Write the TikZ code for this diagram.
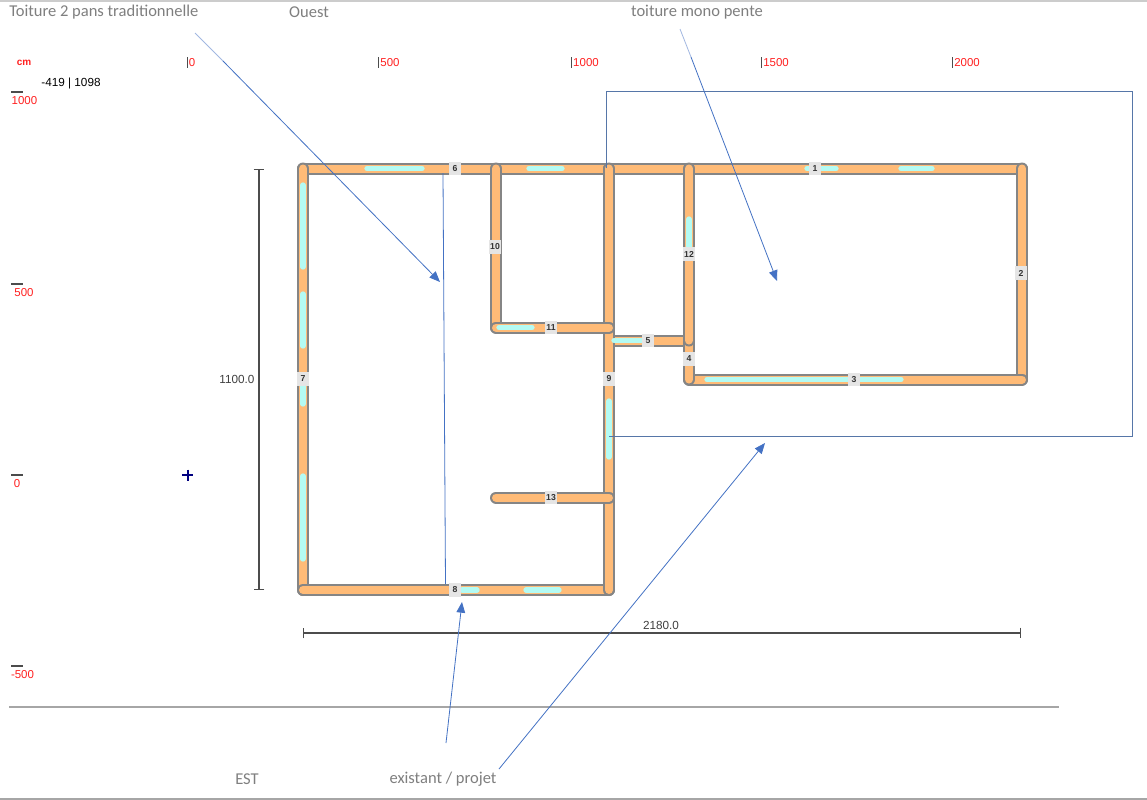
\documentclass[tikz,border=0pt]{standalone}
\usepackage{fontspec}
\setmainfont{Liberation Sans}
\newfontfamily\noteFont{Carlito}
\usetikzlibrary{arrows.meta}
\definecolor{wallg}{HTML}{858585}
\definecolor{wallo}{HTML}{FFBB77}
\definecolor{winc}{HTML}{B4FBF3}
\definecolor{roofb}{HTML}{5676A8}
\definecolor{arrb}{HTML}{4472C4}
\definecolor{notec}{HTML}{7F7F7F}
\definecolor{axr}{HTML}{FF2020}
\tikzset{
 x=0.75pt,y=-0.75pt,
 wallout/.style={draw=wallg,line width=9pt,line cap=round},
 wallin/.style={draw=wallo,line width=6pt,line cap=round},
 win/.style={draw=winc,line width=4pt,line cap=round},
 tag/.style={fill=black!10,inner sep=1pt,minimum width=9pt,minimum height=10pt,font=\fontsize{6.5}{7}\selectfont\bfseries,text=black!80},
 note/.style={font=\noteFont\fontsize{12.4}{14}\selectfont,text=notec,inner sep=0pt},
 axl/.style={font=\fontsize{8.6}{10}\selectfont,text=axr,inner sep=0pt},
 dimt/.style={font=\fontsize{8.8}{10}\selectfont,text=black!75,inner sep=0pt},
 dimln/.style={draw=black!70,line width=0.8pt},
 ptr/.style={draw=arrb,line width=0.6pt,-{Triangle[length=8pt,width=6.5pt]}},
 roof/.style={draw=roofb,line width=0.7pt},
 tickm/.style={draw=black!70,line width=0.8pt},
}
\newcommand{\wallseg}[2]{\draw[wallout] #1 -- #2; \draw[wallin] #1 -- #2;}
\begin{document}
\begin{tikzpicture}
\useasboundingbox (0,0) rectangle (1147,800);
\fill[white] (0,0) rectangle (1147,800);
\draw[black!20,line width=0.8pt] (0,1) -- (1147,1);
\draw[black!35,line width=0.8pt] (0,799) -- (1147,799);
\draw[black!35,line width=1pt] (9,707) -- (1059,707);
% walls, in the order that gives the overlaps
\wallseg{(303,168.5)}{(609,168.5)}
\wallseg{(609,168.5)}{(1022,168.5)}
\wallseg{(303,168.5)}{(303,590)}
\wallseg{(1022,168.5)}{(1022,379.5)}
\wallseg{(303,590)}{(609,590)}
\wallseg{(689,379.5)}{(1022,379.5)}
\wallseg{(609,340.5)}{(689,340.5)}
\wallseg{(609,168.5)}{(609,590)}
\wallseg{(496,168.5)}{(496,327.5)}
\wallseg{(496,327.5)}{(609,327.5)}
\wallseg{(496,497.5)}{(609,497.5)}
\wallseg{(689,340.5)}{(689,379.5)}
\wallseg{(689,168.5)}{(689,340.5)}
% windows
\foreach \a/\b in {367/422,529/562,807/836,901/932}{\draw[win] (\a,168.5) -- (\b,168.5);}
\foreach \a/\b in {185/267,294/346,381/404,476/559}{\draw[win] (303,\a) -- (303,\b);}
\draw[win] (609,401) -- (609,457);
\draw[win] (462,590) -- (477,590);
\draw[win] (526,590) -- (559,590);
\draw[win] (707,379.5) -- (901,379.5);
\draw[win] (499,327.5) -- (532,327.5);
\draw[win] (614,340.5) -- (645,340.5);
\draw[win] (689,219) -- (689,250);
% wall numbers
\node[tag] (w1) at (815,168.5) {1};
\node[tag] (w2) at (1021,273) {2};
\node[tag] (w3) at (854,379.5) {3};
\node[tag] (w4) at (689,359) {4};
\node[tag] (w5) at (648,340.5) {5};
\node[tag] (w6) at (455,168.5) {6};
\node[tag] (w7) at (303,379) {7};
\node[tag] (w8) at (455,590) {8};
\node[tag] (w9) at (609,379) {9};
\node[tag] (w10) at (495,247) {10};
\node[tag] (w11) at (551,327.5) {11};
\node[tag] (w12) at (689,254) {12};
\node[tag] (w13) at (551,497.5) {13};
% dimensions
\coordinate (v1) at (259,168.5); \coordinate (v2) at (259,590);
\coordinate (h1) at (303,633); \coordinate (h2) at (1021,633);
\draw[dimln,{Bar[width=8pt]}-{Bar[width=8pt]}] (v1) -- (v2);
\draw[dimln,{Bar[width=8pt]}-{Bar[width=8pt]}] (h1) -- (h2);
\node[dimt] (dv) at (237,379.5) {1100.0};
\node[dimt] (dh) at (661,625.5) {2180.0};
% axes
\node[axl,font=\fontsize{7.5}{8}\selectfont\bfseries] (cm) at (24,63) {cm};
\node[dimt,text=black] (pos) at (71,83) {-419 | 1098};
\foreach \x/\t/\n in {192/0/xa,390/500/xb,586/1000/xc,776/1500/xd,967/2000/xe}{
  \node[axl] (\n) at (\x,62.5) {\t};
  \draw[tickm] (\n.west)+(-1.5,-5.5) -- +(-1.5,5.5);
}
\foreach \y/\t/\n/\xx in {101/1000/ya/24.5,293/500/yb/24,484/0/yc/17,675/-500/yd/22.5}{
  \node[axl] (\n) at (\xx,\y) {\t};
  \draw[tickm] (11,\y-9) -- (23,\y-9);
}
\draw[draw=blue!50!black,line width=1.5pt] (182,475) -- (193,475) (187.5,469.5) -- (187.5,480.5);
% roof
\coordinate (r0) at (606,168); \coordinate (r1) at (606,91); \coordinate (r2) at (1132,91); \coordinate (r3) at (1132,436); \coordinate (r4) at (609,436);
\draw[roof] (r0) -- (r1) -- (r2) -- (r3) -- (r4);
\coordinate (rg1) at (443,173); \coordinate (rg2) at (445.5,584);
\draw[draw=arrb,line width=0.6pt] (rg1) -- (rg2);
% notes
\node[note,anchor=west] (n1) at (9,12) {Toiture 2 pans traditionnelle};
\node[note] (n2) at (309,12.5) {Ouest};
\node[note] (n3) at (697,12.5) {toiture mono pente};
\node[note] (n4) at (247,779.5) {EST};
\node[note] (n5) at (443,779.5) {existant / projet};
% pointers
\coordinate (a1) at (195,33); \coordinate (a1m) at (223,61); \coordinate (a1e) at (440,282);
\coordinate (a2) at (680,29); \coordinate (a2m) at (691,57); \coordinate (a2e) at (777,281);
\coordinate (a3) at (446,743); \coordinate (a3e) at (462,602);
\coordinate (a4) at (499,769); \coordinate (a4e) at (765,443);
\draw[draw=arrb!50,line width=0.6pt] (a1) -- (a1m);
\draw[draw=arrb!50,line width=0.6pt] (a2) -- (a2m);
\draw[ptr] (a1m) -- (a1e);
\draw[ptr] (a2m) -- (a2e);
\draw[ptr] (a3) -- (a3e);
\draw[ptr] (a4) -- (a4e);
\end{tikzpicture}
\end{document}
